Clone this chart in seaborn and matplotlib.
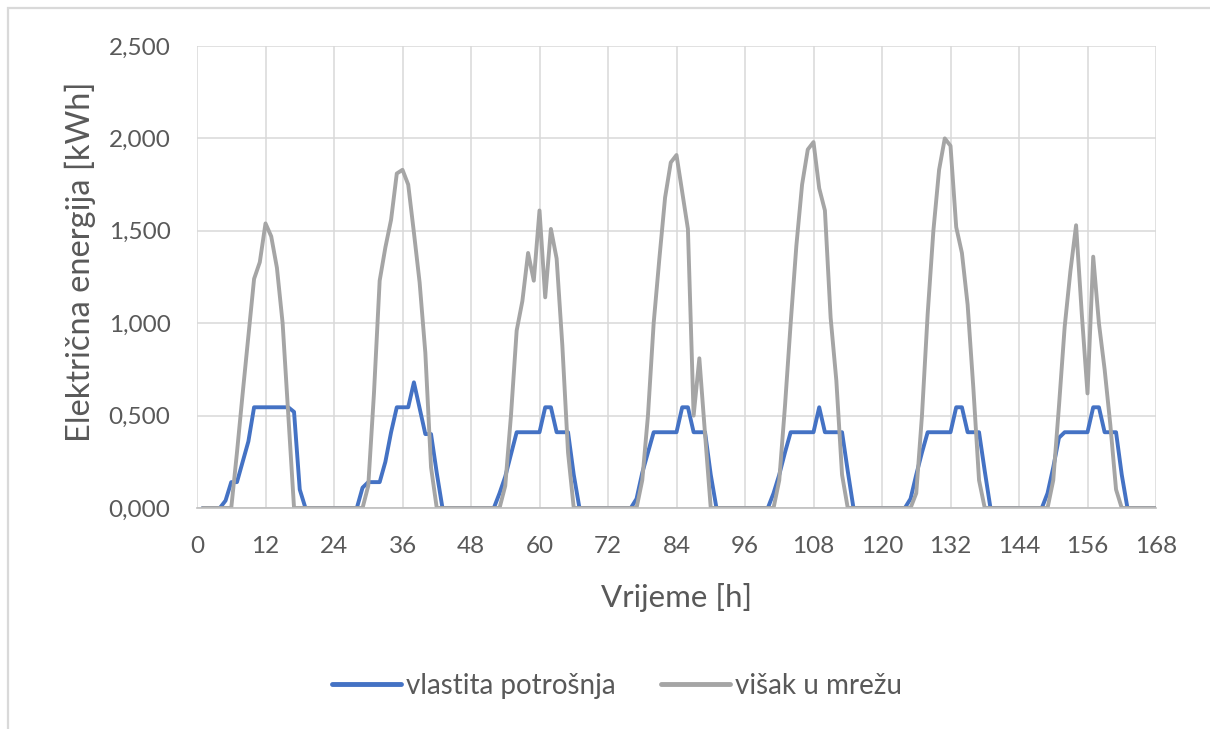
import pandas as pd
import matplotlib
matplotlib.use("Agg")
import matplotlib.pyplot as plt
import seaborn as sns
from matplotlib.ticker import FuncFormatter
from matplotlib.patches import Rectangle
from matplotlib.lines import Line2D

# sati 1..168 (tjedan)
sati = list(range(1, 169))

# vlastita potrošnja [kWh], po danima (24 h)
vlastita = (
    [0, 0, 0, 0, 0.04, 0.14, 0.14, 0.25, 0.36, 0.545, 0.545, 0.545, 0.545, 0.545, 0.545, 0.545, 0.52, 0.10, 0, 0, 0, 0, 0, 0]
    + [0, 0, 0, 0, 0.11, 0.14, 0.14, 0.14, 0.25, 0.41, 0.545, 0.545, 0.545, 0.68, 0.54, 0.40, 0.40, 0.19, 0, 0, 0, 0, 0, 0]
    + [0, 0, 0, 0, 0.08, 0.17, 0.29, 0.41, 0.41, 0.41, 0.41, 0.41, 0.545, 0.545, 0.41, 0.41, 0.41, 0.18, 0, 0, 0, 0, 0, 0]
    + [0, 0, 0, 0, 0.05, 0.19, 0.30, 0.41, 0.41, 0.41, 0.41, 0.41, 0.545, 0.545, 0.41, 0.41, 0.41, 0.18, 0, 0, 0, 0, 0, 0]
    + [0, 0, 0, 0, 0.08, 0.18, 0.30, 0.41, 0.41, 0.41, 0.41, 0.41, 0.545, 0.41, 0.41, 0.41, 0.41, 0.20, 0, 0, 0, 0, 0, 0]
    + [0, 0, 0, 0, 0.05, 0.18, 0.30, 0.41, 0.41, 0.41, 0.41, 0.41, 0.545, 0.545, 0.41, 0.41, 0.41, 0.20, 0, 0, 0, 0, 0, 0]
    + [0, 0, 0, 0, 0.08, 0.22, 0.38, 0.41, 0.41, 0.41, 0.41, 0.41, 0.545, 0.545, 0.41, 0.41, 0.41, 0.18, 0, 0, 0, 0, 0, 0]
)

# višak u mrežu [kWh], po danima (24 h)
visak = (
    [0, 0, 0, 0, 0, 0, 0.30, 0.62, 0.93, 1.24, 1.33, 1.54, 1.47, 1.30, 1.00, 0.50, 0, 0, 0, 0, 0, 0, 0, 0]
    + [0, 0, 0, 0, 0, 0.12, 0.62, 1.23, 1.41, 1.56, 1.81, 1.83, 1.75, 1.49, 1.22, 0.84, 0.22, 0, 0, 0, 0, 0, 0, 0]
    + [0, 0, 0, 0, 0, 0.12, 0.50, 0.96, 1.12, 1.38, 1.23, 1.61, 1.14, 1.51, 1.35, 0.88, 0.30, 0, 0, 0, 0, 0, 0, 0]
    + [0, 0, 0, 0, 0, 0.15, 0.50, 1.00, 1.35, 1.68, 1.87, 1.91, 1.71, 1.51, 0.50, 0.81, 0.40, 0, 0, 0, 0, 0, 0, 0]
    + [0, 0, 0, 0, 0, 0.15, 0.55, 1.00, 1.42, 1.75, 1.94, 1.98, 1.73, 1.61, 1.03, 0.69, 0.18, 0, 0, 0, 0, 0, 0, 0]
    + [0, 0, 0, 0, 0, 0.08, 0.50, 1.05, 1.50, 1.83, 2.00, 1.96, 1.52, 1.38, 1.10, 0.65, 0.15, 0, 0, 0, 0, 0, 0, 0]
    + [0, 0, 0, 0, 0, 0.15, 0.55, 0.98, 1.28, 1.53, 1.05, 0.62, 1.36, 1.00, 0.75, 0.45, 0.10, 0, 0, 0, 0, 0, 0, 0]
)

serije = ['vlastita potrošnja', 'višak u mrežu']
boje = ['#4472C4', '#A5A5A5']
x_ticks = list(range(0, 169, 12))
y_ticks = [0, 0.5, 1.0, 1.5, 2.0, 2.5]

df = pd.DataFrame({
    'sat': sati + sati,
    'energija': vlastita + visak,
    'serija': [serije[0]] * len(sati) + [serije[1]] * len(sati),
})

sns.set_theme(style="white")
plt.rcParams['font.family'] = ['Lato', 'DejaVu Sans']
txt = '#595959'

fig = plt.figure(figsize=(12.1, 7.29), dpi=100)
ax = fig.add_axes([197 / 1210, 1 - 508 / 729, (1156 - 197) / 1210, (508 - 46) / 729])

sns.lineplot(data=df, x='sat', y='energija', hue='serija', hue_order=serije,
             palette=boje, linewidth=2.8, ax=ax, legend=False)

ax.set_xlim(0, 168)
ax.set_ylim(0, 2.5)
ax.set_xticks(x_ticks)
ax.set_yticks(y_ticks)
ax.yaxis.set_major_formatter(FuncFormatter(lambda v, p: f"{v:.3f}".replace('.', ',')))
ax.grid(True, color='#d9d9d9', linewidth=1.1)
ax.set_axisbelow(True)
for s in ['left', 'top', 'right']:
    ax.spines[s].set_visible(False)
ax.spines['bottom'].set_color('#bfbfbf')
ax.spines['bottom'].set_linewidth(1.2)
ax.tick_params(axis='both', length=0, colors=txt, labelsize=17.5)
ax.tick_params(axis='x', pad=20)
ax.tick_params(axis='y', pad=19)
ax.set_xlabel('')
ax.set_ylabel('')

fig.text(80 / 1210, 1 - 262 / 729, 'Električna energija [kWh]', rotation=90,
         ha='center', va='center', fontsize=23.5, color=txt)
fig.text(677 / 1210, 1 - 598 / 729, 'Vrijeme [h]', ha='center', va='center',
         fontsize=22.5, color=txt)

handles = [Line2D([0], [0], color=c, lw=3.5) for c in boje]
fig.legend(handles, serije, loc='center', bbox_to_anchor=(617 / 1210, 1 - 686 / 729),
           ncol=2, frameon=False, fontsize=20, labelcolor=txt, handlelength=2.5,
           handletextpad=0.18, columnspacing=1.6)

fig.patches.append(Rectangle((8 / 1210, -0.1), 1.5, 1.1 - 8 / 729, transform=fig.transFigure,
                             fill=False, edgecolor='#d9d9d9', linewidth=1.6))

fig.savefig('out.png', dpi=100)
